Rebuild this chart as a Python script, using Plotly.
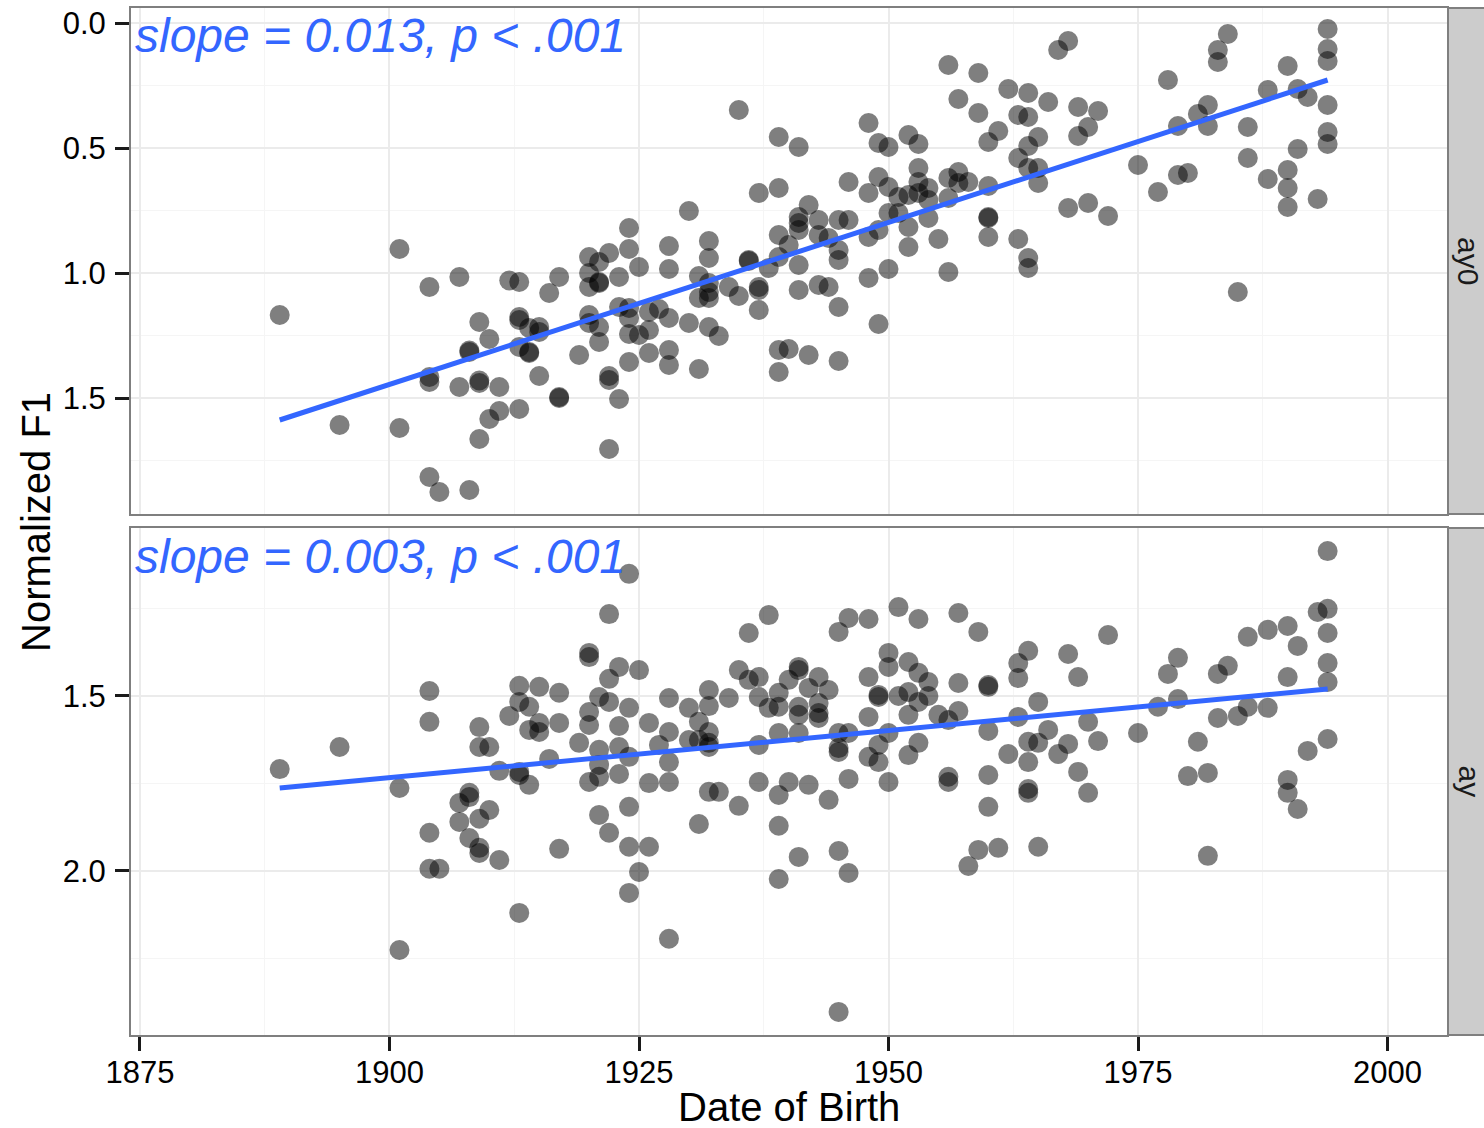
import plotly.graph_objects as go

# ---------------- data ----------------
top_year = [
    1889, 1901, 1904, 1907, 1912, 1913, 1916, 1909, 1910, 1908, 1908, 1913, 1913, 1914, 1915, 1915,
    1913, 1914, 1914, 1904, 1904, 1909, 1909, 1907, 1911, 1915, 1911, 1910, 1913, 1909, 1895, 1901,
    1904, 1905, 1908,
    1941, 1939, 1935, 1937, 1939, 1930, 1924, 1942, 1941, 1941, 1943, 1943, 1944, 1941, 1939, 1940,
    1939, 1938, 1941, 1936, 1936, 1937, 1937, 1937, 1943, 1944, 1941, 1939, 1940, 1939, 1942,
    1920, 1921, 1922, 1920, 1921, 1921, 1920, 1917, 1923, 1924, 1925, 1928, 1928, 1932, 1932, 1931,
    1932, 1932, 1932, 1931, 1934, 1935, 1923, 1924, 1920, 1921, 1920, 1924, 1927, 1926, 1928, 1930,
    1932, 1933, 1926, 1924, 1925, 1921, 1919, 1924, 1926, 1928, 1928, 1931, 1922, 1922, 1917, 1917,
    1923, 1922,
    1968, 1967, 1956, 1959, 1962, 1964, 1966, 1957, 1959, 1963, 1964, 1961, 1960, 1965, 1964, 1963,
    1964, 1965, 1965, 1969, 1971, 1970, 1969, 1968, 1970, 1972, 1948, 1949, 1950, 1952, 1953, 1953,
    1946, 1949, 1950, 1948, 1951, 1952, 1953, 1953, 1954, 1954, 1956, 1957, 1957, 1958, 1956, 1960,
    1960, 1960, 1960, 1963, 1964, 1964, 1956, 1955, 1952, 1952, 1951, 1950, 1949, 1948, 1954, 1945,
    1946, 1945, 1945, 1950, 1948, 1945, 1949, 1945,
    1994, 1994, 1994, 1984, 1983, 1983, 1990, 1978, 1988, 1991, 1992, 1994, 1982, 1981, 1982, 1979,
    1986, 1994, 1994, 1991, 1986, 1975, 1979, 1980, 1990, 1990, 1990, 1988, 1977, 1993, 1985,
]
top_f1 = [
    1.168, 0.904, 1.056, 1.016, 1.030, 1.036, 1.080, 1.196, 1.264, 1.310, 1.316, 1.176, 1.188, 1.220, 1.216, 1.236,
    1.296, 1.316, 1.320, 1.416, 1.436, 1.430, 1.440, 1.456, 1.456, 1.412, 1.552, 1.584, 1.544, 1.664, 1.608, 1.620,
    1.816, 1.876, 1.868,
    0.496, 0.456, 0.348, 0.680, 0.660, 0.752, 0.820, 0.728, 0.776, 0.800, 0.788, 0.848, 0.860, 0.828, 0.848, 0.888,
    0.936, 0.980, 0.968, 0.948, 0.952, 1.056, 1.068, 1.148, 1.048, 1.056, 1.068, 1.308, 1.304, 1.396, 1.328,
    0.936, 0.956, 0.920, 1.000, 1.036, 1.040, 1.056, 1.016, 1.016, 0.904, 0.976, 0.892, 0.984, 0.872, 0.940, 1.012,
    1.040, 1.076, 1.100, 1.100, 1.056, 1.092, 1.136, 1.140, 1.168, 1.216, 1.200, 1.180, 1.144, 1.156, 1.180, 1.200,
    1.216, 1.252, 1.228, 1.244, 1.248, 1.276, 1.328, 1.356, 1.320, 1.308, 1.368, 1.384, 1.412, 1.428, 1.496, 1.500,
    1.504, 1.704,
    0.072, 0.108, 0.168, 0.200, 0.264, 0.280, 0.316, 0.304, 0.360, 0.368, 0.376, 0.432, 0.476, 0.456, 0.492, 0.540,
    0.580, 0.580, 0.640, 0.336, 0.352, 0.416, 0.452, 0.740, 0.720, 0.772, 0.400, 0.480, 0.496, 0.448, 0.484, 0.580,
    0.636, 0.616, 0.656, 0.680, 0.696, 0.688, 0.636, 0.680, 0.660, 0.708, 0.620, 0.596, 0.640, 0.636, 0.700, 0.652,
    0.776, 0.780, 0.856, 0.864, 0.940, 0.980, 0.996, 0.864, 0.896, 0.816, 0.760, 0.760, 0.828, 0.856, 0.780, 0.788,
    0.788, 0.908, 0.948, 0.984, 1.020, 1.136, 1.204, 1.352,
    0.024, 0.104, 0.152, 0.044, 0.108, 0.156, 0.172, 0.228, 0.268, 0.264, 0.296, 0.328, 0.328, 0.364, 0.412, 0.412,
    0.416, 0.436, 0.484, 0.504, 0.540, 0.568, 0.608, 0.600, 0.588, 0.660, 0.736, 0.624, 0.676, 0.704, 1.076,
]

bottom_year = [
    1889, 1895, 1901, 1904, 1904, 1909, 1909, 1910, 1912, 1913, 1915, 1913, 1914, 1914, 1915, 1915,
    1911, 1913, 1913, 1914, 1916, 1908, 1908, 1907, 1910, 1909, 1907, 1904, 1908, 1909, 1909, 1911,
    1904, 1905, 1913, 1901,
    1924, 1922, 1920, 1920, 1923, 1925, 1922, 1917, 1921, 1922, 1920, 1920, 1924, 1923, 1917, 1919,
    1921, 1923, 1924, 1921, 1921, 1920, 1923, 1926, 1928, 1927, 1928, 1928, 1928, 1926, 1930, 1931,
    1932, 1932, 1932, 1932, 1932, 1930, 1931, 1934, 1935, 1936, 1937, 1936, 1938, 1937, 1938, 1939,
    1939, 1940, 1941, 1941, 1937, 1939, 1941, 1941, 1941, 1942, 1943, 1943, 1943, 1943, 1932, 1933,
    1935, 1937, 1939, 1940, 1942, 1939, 1931, 1941, 1939, 1921, 1922, 1924, 1924, 1926, 1925, 1924,
    1917, 1928, 1944,
    1951, 1957, 1953, 1959, 1946, 1948, 1945, 1950, 1950, 1952, 1953, 1954, 1948, 1944, 1949, 1949,
    1951, 1952, 1953, 1954, 1948, 1952, 1955, 1956, 1957, 1957, 1960, 1960, 1963, 1964, 1963, 1968,
    1969, 1972, 1965, 1963, 1960, 1966, 1964, 1965, 1968, 1970, 1971, 1962, 1964, 1967, 1969, 1970,
    1964, 1964, 1960, 1960, 1956, 1956, 1950, 1949, 1948, 1949, 1952, 1953, 1950, 1945, 1945, 1945,
    1946, 1946, 1945, 1946, 1959, 1958, 1961, 1965, 1945,
    1994, 1993, 1994, 1994, 1994, 1994, 1990, 1988, 1986, 1991, 1990, 1979, 1978, 1984, 1983, 1979,
    1977, 1986, 1985, 1983, 1988, 1975, 1981, 1980, 1982, 1994, 1992, 1990, 1990, 1991, 1982,
]
bottom_f1 = [
    1.709, 1.646, 1.763, 1.486, 1.574, 1.589, 1.646, 1.646, 1.557, 1.471, 1.474, 1.517, 1.531, 1.597, 1.603, 1.577,
    1.714, 1.717, 1.726, 1.754, 1.680, 1.777, 1.789, 1.806, 1.826, 1.851, 1.860, 1.891, 1.906, 1.934, 1.949, 1.969,
    1.994, 1.994, 2.120, 2.226,
    1.151, 1.266, 1.377, 1.389, 1.417, 1.426, 1.451, 1.491, 1.503, 1.517, 1.546, 1.583, 1.534, 1.586, 1.577, 1.634,
    1.654, 1.646, 1.674, 1.697, 1.731, 1.746, 1.723, 1.577, 1.506, 1.640, 1.603, 1.689, 1.746, 1.749, 1.534, 1.574,
    1.483, 1.529, 1.603, 1.634, 1.646, 1.626, 1.626, 1.506, 1.426, 1.454, 1.446, 1.320, 1.269, 1.503, 1.534, 1.491,
    1.531, 1.454, 1.417, 1.426, 1.640, 1.606, 1.606, 1.531, 1.554, 1.477, 1.446, 1.520, 1.549, 1.563, 1.774, 1.774,
    1.814, 1.746, 1.783, 1.746, 1.754, 1.871, 1.866, 1.960, 2.023, 1.840, 1.891, 1.817, 1.931, 1.931, 2.003, 2.063,
    1.937, 2.194, 1.797,
    1.246, 1.263, 1.280, 1.317, 1.277, 1.280, 1.317, 1.377, 1.417, 1.403, 1.434, 1.460, 1.446, 1.483, 1.497, 1.503,
    1.500, 1.489, 1.517, 1.500, 1.560, 1.554, 1.554, 1.569, 1.463, 1.543, 1.469, 1.474, 1.406, 1.371, 1.449, 1.380,
    1.446, 1.326, 1.517, 1.560, 1.600, 1.597, 1.631, 1.634, 1.637, 1.574, 1.629, 1.666, 1.689, 1.666, 1.717, 1.777,
    1.766, 1.777, 1.726, 1.817, 1.731, 1.746, 1.606, 1.640, 1.674, 1.689, 1.669, 1.634, 1.746, 1.606, 1.649, 1.660,
    1.606, 1.737, 1.943, 2.006, 1.940, 1.986, 1.934, 1.931, 2.403,
    1.086, 1.260, 1.251, 1.320, 1.406, 1.460, 1.300, 1.311, 1.331, 1.357, 1.446, 1.391, 1.437, 1.414, 1.437, 1.509,
    1.531, 1.531, 1.557, 1.563, 1.534, 1.606, 1.631, 1.729, 1.720, 1.623, 1.657, 1.740, 1.777, 1.823, 1.957,
]

# fitted regression lines (endpoints)
fit_year = [1889, 1994]
fit_top = [1.588, 0.228]
fit_bottom = [1.763, 1.480]

facet_labels = ["ay0", "ay"]
slope_labels = ["slope = 0.013, p < .001", "slope = 0.003, p < .001"]
x_ticks = [1875, 1900, 1925, 1950, 1975, 2000]
top_ticks = [0.0, 0.5, 1.0, 1.5]
top_ticktext = ["0.0", "0.5", "1.0", "1.5"]
bottom_ticks = [1.5, 2.0]
bottom_ticktext = ["1.5", "2.0"]

# ---------------- layout helpers ----------------
W, H = 1484, 1128
FONT = "Liberation Sans, Arial, Helvetica, sans-serif"
PANEL_L, PANEL_R = 131, 1447
TOP_T, TOP_B = 8, 514
BOT_T, BOT_B = 528, 1035


def px(x):
    return x / W


def py(y):
    return 1 - y / H


fig = go.Figure()

marker = dict(color="black", opacity=0.5, size=20, line=dict(width=0))
fig.add_trace(go.Scatter(x=top_year, y=top_f1, mode="markers", marker=marker,
                         xaxis="x2", yaxis="y", showlegend=False, hoverinfo="x+y"))
fig.add_trace(go.Scatter(x=fit_year, y=fit_top, mode="lines",
                         line=dict(color="#3366FF", width=5),
                         xaxis="x2", yaxis="y", showlegend=False))
fig.add_trace(go.Scatter(x=bottom_year, y=bottom_f1, mode="markers", marker=marker,
                         xaxis="x", yaxis="y2", showlegend=False, hoverinfo="x+y"))
fig.add_trace(go.Scatter(x=fit_year, y=fit_bottom, mode="lines",
                         line=dict(color="#3366FF", width=5),
                         xaxis="x", yaxis="y2", showlegend=False))

x_range = [1874.1, 2005.96]
common_axis = dict(
    automargin=False,
    showline=True, linecolor="#7F7F7F", linewidth=2, mirror=True,
    zeroline=False, showgrid=True, gridcolor="#EBEBEB", gridwidth=2,
    tickfont=dict(family=FONT, size=31, color="black"),
    ticklen=14, tickwidth=3, tickcolor="#1A1A1A",
)
minor_x = dict(dtick=12.5, tick0=1862.5, showgrid=True, gridcolor="#F5F5F5", gridwidth=1, ticks="")
minor_y = dict(dtick=0.25, tick0=0, showgrid=True, gridcolor="#F5F5F5", gridwidth=1, ticks="")

fig.update_layout(
    width=W, height=H,
    margin=dict(l=0, r=0, t=0, b=0),
    paper_bgcolor="white", plot_bgcolor="white",
    font=dict(family=FONT, color="black"),
    xaxis=dict(domain=[px(PANEL_L), px(PANEL_R)], anchor="y2", range=x_range,
               tickvals=x_ticks, ticks="outside", ticklabelstandoff=-5,
               minor=minor_x, **common_axis),
    xaxis2=dict(domain=[px(PANEL_L), px(PANEL_R)], anchor="y", matches="x", range=x_range,
                tickvals=x_ticks, showticklabels=False, ticks="",
                minor=minor_x, **common_axis),
    yaxis=dict(domain=[py(TOP_B), py(TOP_T)], anchor="x2", range=[1.964, -0.06],
               tickvals=top_ticks, ticktext=top_ticktext, ticks="outside", ticklabelstandoff=3,
               minor=minor_y, **common_axis),
    yaxis2=dict(domain=[py(BOT_B), py(BOT_T)], anchor="x", range=[2.469, 1.02],
                tickvals=bottom_ticks, ticktext=bottom_ticktext, ticks="outside", ticklabelstandoff=3,
                minor=minor_y, **common_axis),
)

# facet strips on the right
for (t, b), lab in zip([(TOP_T, TOP_B), (BOT_T, BOT_B)], facet_labels):
    fig.add_shape(type="rect", xref="paper", yref="paper",
                  x0=px(PANEL_R + 1), x1=px(PANEL_R + 60), y0=py(b), y1=py(t),
                  fillcolor="#CCCCCC", line=dict(color="#7F7F7F", width=2), layer="above")
    fig.add_annotation(text=lab, xref="paper", yref="paper",
                       x=px(1469), y=py((t + b) / 2), textangle=90,
                       showarrow=False, xanchor="center", yanchor="middle",
                       font=dict(family=FONT, size=30, color="#1A1A1A"))

# slope annotations
for t, lab in zip([TOP_T, BOT_T], slope_labels):
    fig.add_annotation(text="<i>" + lab + "</i>", xref="paper", yref="paper",
                       x=px(133), y=py(t + 28), xanchor="left", yanchor="middle",
                       showarrow=False, font=dict(family=FONT, size=48, color="#3366FF"))

# axis titles
fig.add_annotation(text="Date of Birth", xref="paper", yref="paper",
                   x=px((PANEL_L + PANEL_R) / 2), y=py(1107), xanchor="center", yanchor="middle",
                   showarrow=False, font=dict(family=FONT, size=40, color="black"))
fig.add_annotation(text="Normalized F1", xref="paper", yref="paper",
                   x=px(36), y=py(522), xanchor="center", yanchor="middle", textangle=-90,
                   showarrow=False, font=dict(family=FONT, size=40, color="black"))

fig.write_html("out.html")
